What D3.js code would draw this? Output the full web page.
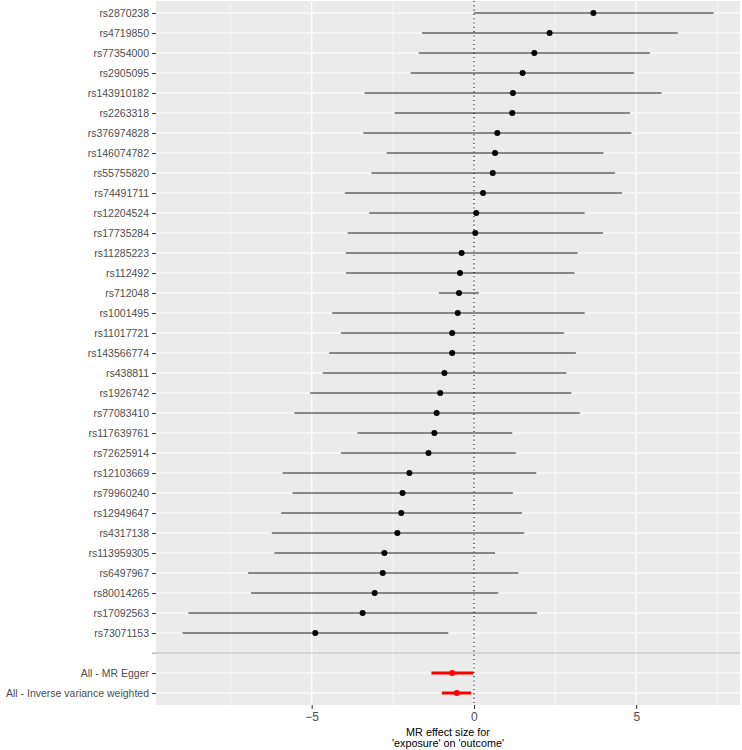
<!DOCTYPE html>
<html>
<head>
<meta charset="utf-8">
<script src="https://cdn.jsdelivr.net/npm/d3@7"></script>
<style>
  body { margin: 0; background: #fff; }
  text { font-family: "Liberation Sans", Arial, sans-serif; }
</style>
</head>
<body>
<svg id="forest"></svg>
<script>
// Data: single SNP estimates (top to bottom)
let snps = ["rs2870238", "rs4719850", "rs77354000", "rs2905095", "rs143910182", "rs2263318",
    "rs376974828", "rs146074782", "rs55755820", "rs74491711", "rs12204524", "rs17735284",
    "rs11285223", "rs112492", "rs712048", "rs1001495", "rs11017721", "rs143566774",
    "rs438811", "rs1926742", "rs77083410", "rs117639761", "rs72625914", "rs12103669",
    "rs79960240", "rs12949647", "rs4317138", "rs113959305", "rs6497967", "rs80014265",
    "rs17092563", "rs73071153"];
let snp_b = [3.68, 2.33, 1.86, 1.50, 1.20, 1.18, 0.72, 0.65, 0.58, 0.28, 0.07, 0.04,
    -0.38, -0.43, -0.46, -0.50, -0.67, -0.67, -0.91, -1.04, -1.15, -1.22, -1.40, -1.99,
    -2.20, -2.24, -2.36, -2.76, -2.81, -3.06, -3.43, -4.89];
let snp_lo = [0.00, -1.60, -1.70, -1.95, -3.37, -2.44, -3.41, -2.69, -3.16, -3.98, -3.23, -3.89,
    -3.95, -3.94, -1.08, -4.37, -4.10, -4.46, -4.66, -5.05, -5.53, -3.59, -4.10, -5.90,
    -5.59, -5.94, -6.23, -6.15, -6.96, -6.87, -8.80, -8.98];
let snp_hi = [7.38, 6.28, 5.42, 4.93, 5.78, 4.81, 4.85, 3.99, 4.35, 4.56, 3.41, 3.98,
    3.19, 3.10, 0.15, 3.41, 2.77, 3.14, 2.85, 3.00, 3.26, 1.18, 1.29, 1.92,
    1.20, 1.48, 1.55, 0.65, 1.37, 0.75, 1.94, -0.79];

// Data: combined estimates
let methods = ["All - MR Egger", "All - Inverse variance weighted"];
let method_b = [-0.67, -0.53];
let method_lo = [-1.31, -0.99];
let method_hi = [-0.02, -0.08];

let x_ticks = [-5, 0, 5];
let x_minor = [-7.5, -2.5, 2.5, 7.5];

// rows (blank row separates SNPs from methods)
let rows = snps.map((s, i) => ({ label: s, b: snp_b[i], lo: snp_lo[i], hi: snp_hi[i], summary: false }))
    .concat(methods.map((m, i) => ({ label: m, b: method_b[i], lo: method_lo[i], hi: method_hi[i], summary: true })));
let categories = snps.concat([""], methods);

// SVG Size
let width = 742;
let height = 750;
let margin = { top: 1, right: 2, bottom: 45, left: 156 };

let svg = d3.select("#forest")
    .attr("width", width)
    .attr("height", height);

// Scales
let lo_all = d3.min(rows, d => d.lo);
let hi_all = d3.max(rows, d => d.hi);
let pad = (hi_all - lo_all) * 0.05;
let x = d3.scaleLinear()
    .domain([lo_all - pad, hi_all + pad])
    .range([margin.left, width - margin.right]);

let y = d3.scalePoint()
    .domain(categories)
    .range([margin.top, height - margin.bottom])
    .padding(0.6);

// Panel
svg.append("rect")
    .attr("x", margin.left)
    .attr("y", margin.top)
    .attr("width", width - margin.right - margin.left)
    .attr("height", height - margin.bottom - margin.top)
    .attr("fill", "#ebebeb");

// Grid
svg.selectAll(".minor")
    .data(x_minor)
    .enter()
    .append("line")
    .attr("x1", d => x(d)).attr("x2", d => x(d))
    .attr("y1", margin.top).attr("y2", height - margin.bottom)
    .attr("stroke", "#fff").attr("stroke-width", 0.6);

svg.selectAll(".major")
    .data(x_ticks)
    .enter()
    .append("line")
    .attr("x1", d => x(d)).attr("x2", d => x(d))
    .attr("y1", margin.top).attr("y2", height - margin.bottom)
    .attr("stroke", "#fff").attr("stroke-width", 1.1);

svg.selectAll(".ygrid")
    .data(categories.filter(c => c !== ""))
    .enter()
    .append("line")
    .attr("x1", margin.left).attr("x2", width - margin.right)
    .attr("y1", d => y(d)).attr("y2", d => y(d))
    .attr("stroke", "#fff").attr("stroke-width", 1.1);

// Separator
svg.append("line")
    .attr("x1", margin.left - 4).attr("x2", width - margin.right)
    .attr("y1", y("")).attr("y2", y(""))
    .attr("stroke", "#bebebe").attr("stroke-width", 1.1);

// Zero line
svg.append("line")
    .attr("x1", x(0)).attr("x2", x(0))
    .attr("y1", margin.top).attr("y2", height - margin.bottom)
    .attr("stroke", "#000").attr("stroke-width", 1.1)
    .attr("stroke-dasharray", "1.1,3.2");

// Error bars
svg.selectAll(".bar")
    .data(rows)
    .enter()
    .append("line")
    .attr("x1", d => x(d.lo)).attr("x2", d => x(d.hi))
    .attr("y1", d => y(d.label)).attr("y2", d => y(d.label))
    .attr("stroke", d => d.summary ? "#ff0000" : "#1a1a1a")
    .attr("stroke-width", d => d.summary ? 3 : 1.1);

// Points
svg.selectAll(".pt")
    .data(rows)
    .enter()
    .append("circle")
    .attr("cx", d => x(d.b))
    .attr("cy", d => y(d.label))
    .attr("r", 3)
    .attr("fill", d => d.summary ? "#ff0000" : "#000");

// Axes
let yAxis = svg.append("g")
    .attr("transform", `translate(${margin.left},0)`)
    .call(d3.axisLeft(y).tickSize(4).tickPadding(3));
yAxis.select(".domain").remove();
yAxis.selectAll("line").attr("stroke", "#333");
yAxis.selectAll(".tick").filter(d => d === "").select("line").attr("stroke", "#bebebe");
yAxis.selectAll("text")
    .attr("fill", "#4d4d4d")
    .attr("font-size", "10.5px")
    .attr("font-family", "'Liberation Sans', Arial, sans-serif");

let xAxis = svg.append("g")
    .attr("transform", `translate(0,${height - margin.bottom})`)
    .call(d3.axisBottom(x).tickValues(x_ticks).tickSize(4).tickPadding(3.5).tickFormat(d3.format("d")));
xAxis.select(".domain").remove();
xAxis.selectAll("line").attr("stroke", "#333");
xAxis.selectAll("text")
    .attr("fill", "#4d4d4d")
    .attr("font-size", "12px")
    .attr("font-family", "'Liberation Sans', Arial, sans-serif");

// Axis title
let cx = (margin.left + width - margin.right) / 2;
let title = svg.append("text")
    .attr("x", cx)
    .attr("y", 735.7)
    .attr("text-anchor", "middle")
    .attr("font-size", "10.8px")
    .attr("fill", "#000");
title.append("tspan").attr("x", cx).text("MR effect size for");
title.append("tspan").attr("x", cx).attr("dy", 11).text("'exposure' on 'outcome'");
</script>
</body>
</html>
